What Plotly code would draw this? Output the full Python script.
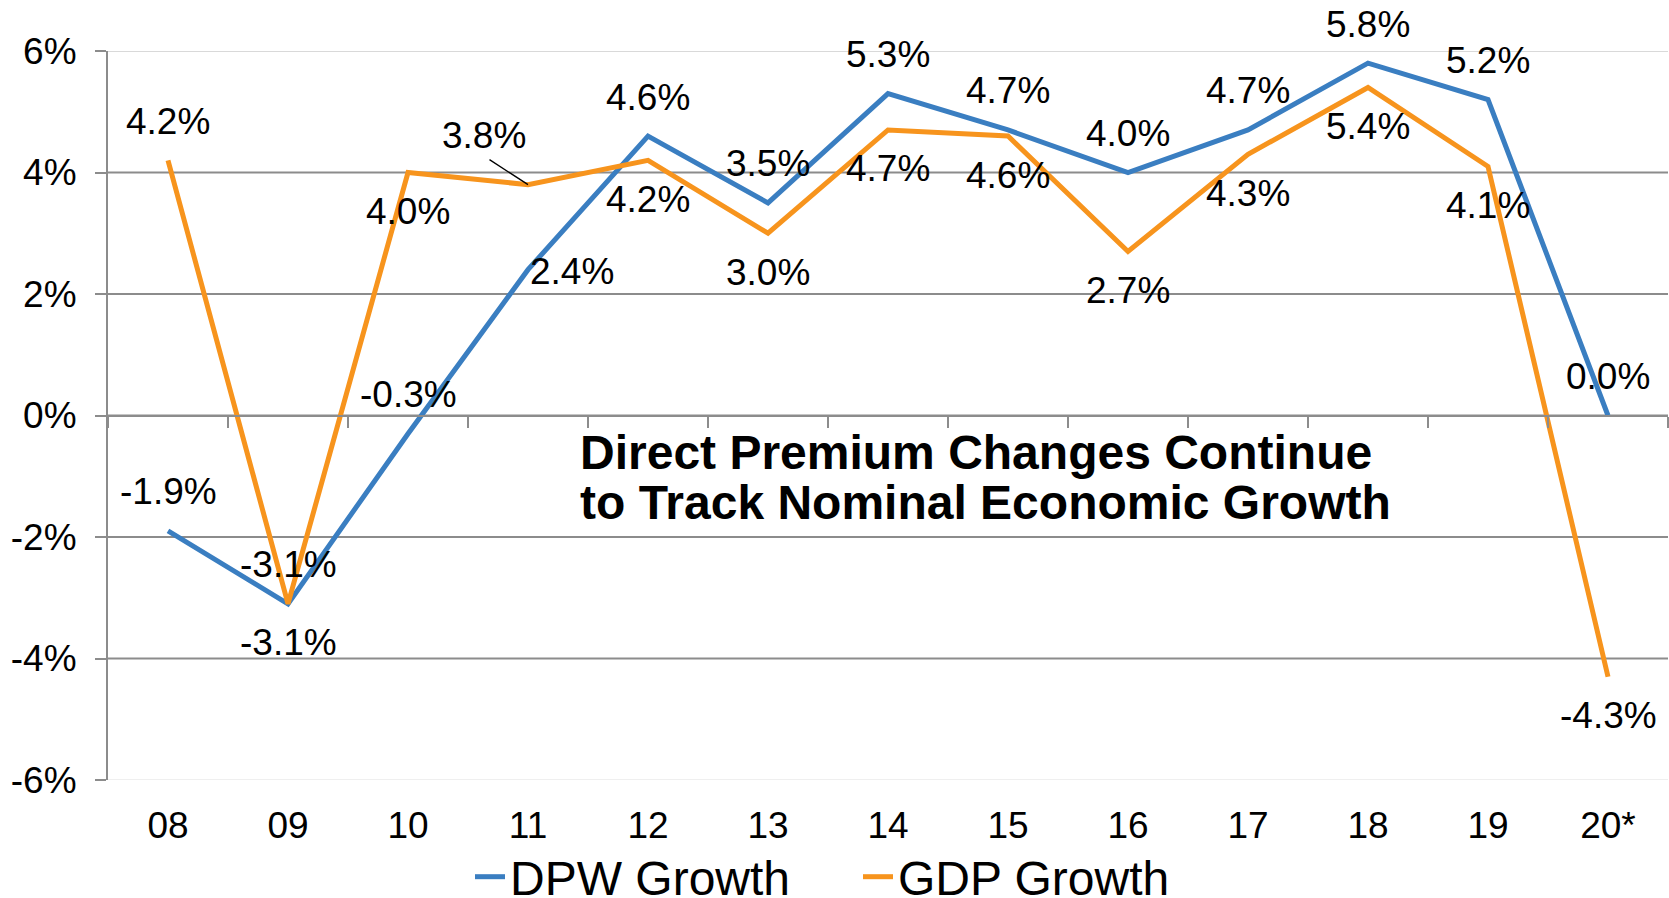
import plotly.graph_objects as go

# ---------------- data ----------------
categories = ["08", "09", "10", "11", "12", "13", "14", "15", "16", "17", "18", "19", "20*"]
dpw_growth = [-1.9, -3.1, -0.3, 2.4, 4.6, 3.5, 5.3, 4.7, 4.0, 4.7, 5.8, 5.2, 0.0]
gdp_growth = [4.2, -3.1, 4.0, 3.8, 4.2, 3.0, 4.7, 4.6, 2.7, 4.3, 5.4, 4.1, -4.3]
y_ticks = [-6, -4, -2, 0, 2, 4, 6]
y_tick_labels = ["-6%", "-4%", "-2%", "0%", "2%", "4%", "6%"]
series_names = ["DPW Growth", "GDP Growth"]
title_lines = ["Direct Premium Changes Continue", "to Track Nominal Economic Growth"]

# label placement (style, not data)
dpw_label_side = ["above", "above", "above", "right", "above", "above", "above",
                  "above", "above", "above", "above", "above", "above"]
gdp_label_side = ["above", "below", "below", "leader", "below", "below", "below",
                  "below", "below", "below", "below", "below", "below"]

# ---------------- style ----------------
BLUE = "#3A7EC1"
ORANGE = "#F7941D"
GRID = "#8C8C8C"
FONT = "Arial, Liberation Sans, sans-serif"
LABEL_SIZE = 37
LABEL_OFF = 39

W, H = 1669, 898
ML, MR, MT, MB = 108, 1, 51, 118
pw, ph = W - ML - MR, H - MT - MB

fig = go.Figure()
fig.add_trace(go.Scatter(x=categories, y=dpw_growth, name=series_names[0], mode="lines",
                         line=dict(color=BLUE, width=5), xaxis="x", yaxis="y"))
fig.add_trace(go.Scatter(x=categories, y=gdp_growth, name=series_names[1], mode="lines",
                         line=dict(color=ORANGE, width=5), xaxis="x2", yaxis="y"))

annotations = []


def add_labels(values, sides, xref):
    # category index used as x so numeric-looking labels ("08") are not misread
    for i, (v, side) in enumerate(zip(values, sides)):
        txt = f"{v:.1f}%"
        base = dict(x=i, y=v, xref=xref, yref="y", text=txt, showarrow=False,
                    font=dict(family=FONT, size=LABEL_SIZE, color="black"))
        if side == "above":
            base.update(yshift=LABEL_OFF)
        elif side == "below":
            base.update(yshift=-LABEL_OFF)
        elif side == "right":
            base.update(xanchor="left", yshift=-2)
        elif side == "leader":
            base.update(xshift=-44, yshift=49)
            annotations.append(dict(x=i, y=v, xref=xref, yref="y", text="",
                                    showarrow=True, arrowhead=0, arrowwidth=1.3,
                                    arrowcolor="black", ax=-40, ay=-26,
                                    standoff=0, startstandoff=0))
        annotations.append(base)


add_labels(dpw_growth, dpw_label_side, "x")
add_labels(gdp_growth, gdp_label_side, "x2")

# title text inside the plot (positions in pixels converted to paper coords)
for txt, ypx in zip(title_lines, [452, 502]):
    annotations.append(dict(x=(578 - ML) / pw, y=1 - (ypx - MT) / ph,
                            xref="paper", yref="paper", text=txt, showarrow=False,
                            xanchor="left", yanchor="middle",
                            font=dict(family=FONT, size=48, color="black", weight="bold")))

# gridlines (light at the extremes, grey inside)
shapes = []
for v in y_ticks:
    col = GRID
    if v == 6:
        col = "#D9D9D9"
    elif v == -6:
        col = "#EFEFEF"
    shapes.append(dict(type="line", xref="paper", yref="y", x0=0, x1=1, y0=v, y1=v,
                       line=dict(color=col, width=2), layer="below"))

fig.update_layout(
    width=W, height=H,
    margin=dict(l=ML, r=MR, t=MT, b=MB, autoexpand=False),
    paper_bgcolor="white", plot_bgcolor="white",
    font=dict(family=FONT, size=LABEL_SIZE, color="black"),
    annotations=annotations,
    shapes=shapes,
    showlegend=True,
    legend=dict(orientation="h", xref="container", yref="container",
                x=470 / W, xanchor="left", y=1 - 877 / H, yanchor="middle",
                font=dict(family=FONT, size=48, color="black"),
                bgcolor="rgba(0,0,0,0)", entrywidth=343, entrywidthmode="pixels",
                tracegroupgap=0),
    xaxis=dict(type="category", categoryorder="array", categoryarray=categories,
               range=[-0.5, len(categories) - 0.5], showline=False, ticks="",
               showgrid=False, zeroline=False, ticklabelstandoff=20, automargin=False,
               tickfont=dict(family=FONT, size=LABEL_SIZE, color="black")),
    xaxis2=dict(type="category", categoryorder="array", categoryarray=categories,
                overlaying="x", anchor="free", position=0.5, side="bottom",
                range=[-0.5, len(categories) - 0.5], automargin=False,
                showline=True, linecolor=GRID, linewidth=2, ticks="outside",
                tickson="boundaries", ticklen=11, tickcolor=GRID, tickwidth=1.5,
                showticklabels=False, showgrid=False, zeroline=False),
    yaxis=dict(range=[-6, 6], tickmode="array", tickvals=y_ticks, ticktext=y_tick_labels,
               showline=True, linecolor=GRID, linewidth=2, ticks="outside", ticklen=11,
               tickcolor=GRID, tickwidth=1.5, showgrid=False, zeroline=False,
               ticklabelstandoff=11, automargin=False,
               tickfont=dict(family=FONT, size=LABEL_SIZE, color="black")),
)

# remove the default page margin so the figure sits at the window's top-left corner
fig.write_html("out.html", config={"displayModeBar": False},
               post_script="document.body.style.margin='0';document.body.style.overflow='hidden';")
